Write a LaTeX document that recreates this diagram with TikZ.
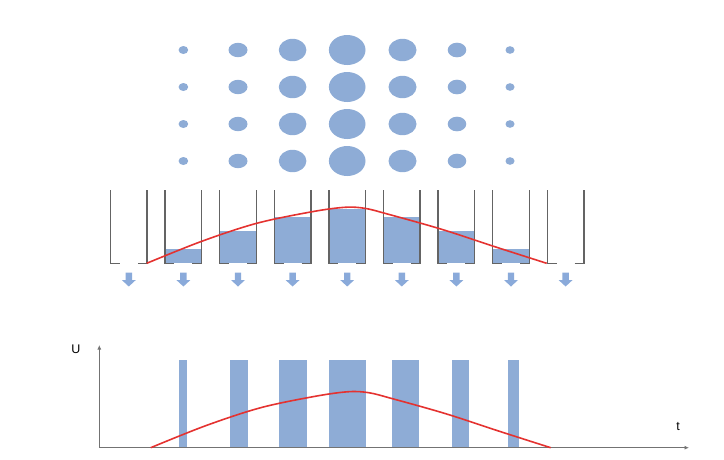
\documentclass[tikz,border=0pt]{standalone}
\usepackage{fontspec}
\setmainfont{Liberation Sans}
\usetikzlibrary{arrows.meta}

\definecolor{dotblue}{RGB}{142,172,214}
\definecolor{dropblue}{RGB}{138,170,218}
\definecolor{wallgray}{RGB}{100,100,100}
\definecolor{curvered}{RGB}{228,50,48}
\definecolor{axisgray}{RGB}{115,115,115}

% smooth envelope, baseline at the origin
\newcommand{\envelope}{plot[smooth, tension=0.55] coordinates {(0,0) (55,-22) (110,-40) (165,-51.5) (198,-56) (218,-55) (240,-49.5) (295,-34) (350,-16) (400,0)}}

\begin{document}
\begin{tikzpicture}[x=1pt, y=-1pt,
 wall/.style={draw=wallgray, line width=1.3pt},
 water/.style={fill=dotblue},
 drop/.style={fill=dropblue},
 pulse/.style={fill=dotblue},
 env/.style={draw=curvered, line width=1.6pt},
 axis/.style={draw=axisgray, line width=1.2pt, -{Latex[length=4.5pt, width=4pt]}},
 lbl/.style={font=\fontsize{12.5}{14}\selectfont, inner sep=0pt}]
\useasboundingbox (0,0) rectangle (724,459);

% dot grid
\foreach \y in {50,87,124,161} {
  \fill[dotblue] (183.4,\y) ellipse [x radius=4.8pt, y radius=4pt];
  \fill[dotblue] (238,\y) ellipse [x radius=9.5pt, y radius=7.2pt];
  \fill[dotblue] (292.6,\y) ellipse [x radius=13.8pt, y radius=11.2pt];
  \fill[dotblue] (347.2,\y) ellipse [x radius=18.3pt, y radius=15pt];
  \fill[dotblue] (402.5,\y) ellipse [x radius=14pt, y radius=11.2pt];
  \fill[dotblue] (457,\y) ellipse [x radius=9.3pt, y radius=7.3pt];
  \fill[dotblue] (510,\y) ellipse [x radius=4.5pt, y radius=3.8pt];
}

% filled levels
\foreach \c/\lvl in {183.4/14, 238/32.6, 292.6/46.6, 347.2/54, 401.8/46.3, 456.4/32.6, 511/14}
  \fill[water] (\c-18.3,263.3) rectangle (\c+18.3,263.3-\lvl);

% cups
\foreach \c in {128.8,183.4,238,292.6,347.2,401.8,456.4,511,565.6} {
  \draw[wall] (\c-18.3,190) -- (\c-18.3,263.3) -- (\c-9,263.3);
  \draw[wall] (\c+9,263.3) -- (\c+18.3,263.3) -- (\c+18.3,190);
}

% envelope over cups
\draw[env, shift={(146.7,263.3)}] \envelope;

% drops
\foreach \c in {128.8,183.4,238,292.6,347.2,401.8,456.4,511,565.6}
  \fill[drop] (\c-3.2,272.5) -- ++(6.4,0) -- ++(0,7.5) -- ++(3.8,0) -- (\c,286.5) -- (\c-7,280) -- (\c-3.2,280) -- cycle;

% pulse chart
\foreach \l/\r in {179/187.3, 230/247.7, 279/306.7, 329.3/366, 391.7/419.3, 451.7/469, 508.3/519}
  \fill[pulse] (\l,360) rectangle (\r,447.7);

\coordinate (origin) at (99.3,447.7);
\coordinate (yend) at (99.3,345);
\coordinate (xend) at (689,447.7);
\draw[axis] (origin) -- (yend);
\draw[axis] (origin) -- (xend);
\node[lbl] (lblU) at (76,349) {U};
\node[lbl] (lblT) at (678,426.5) {t};

\draw[env, shift={(150.7,447.7)}] \envelope;
\end{tikzpicture}
\end{document}
